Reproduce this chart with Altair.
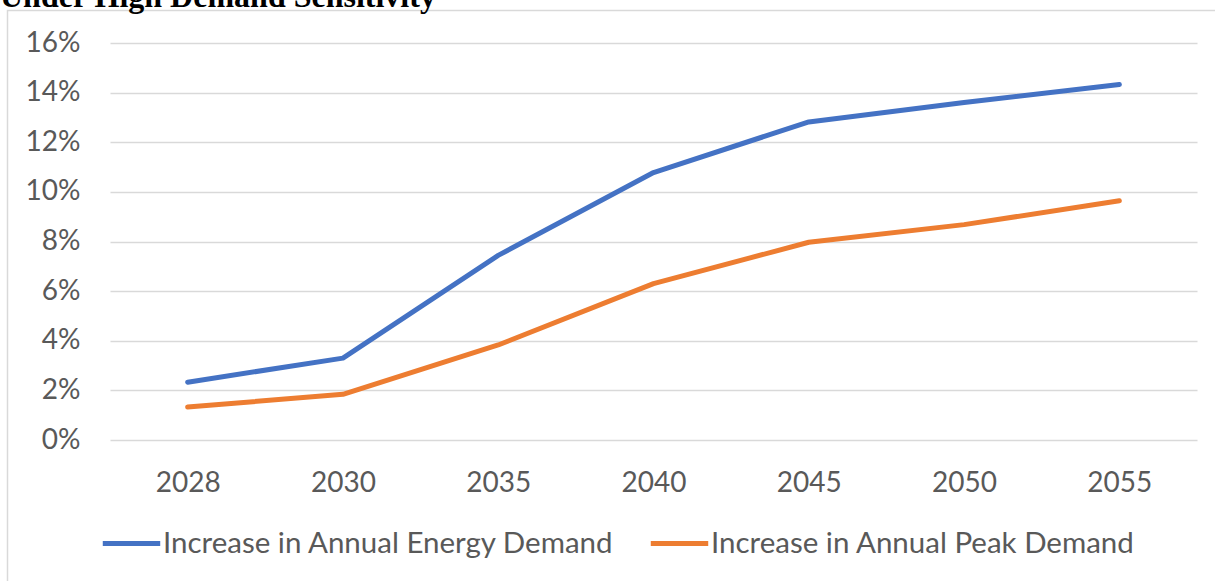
import altair as alt
import pandas as pd

# ---- data ----
title_text = "Under High Demand Sensitivity"
years = ["2028", "2030", "2035", "2040", "2045", "2050", "2055"]
series_names = ["Increase in Annual Energy Demand", "Increase in Annual Peak Demand"]
energy = [2.33, 3.30, 7.44, 10.78, 12.82, 13.60, 14.33]
peak = [1.33, 1.84, 3.83, 6.30, 7.97, 8.68, 9.64]
y_ticks = [0, 2, 4, 6, 8, 10, 12, 14, 16]
colors = ["#4472C4", "#ED7D31"]

rows = []
for yr, e, p in zip(years, energy, peak):
    rows.append({"year": yr, "series": series_names[0], "value": e})
    rows.append({"year": yr, "series": series_names[1], "value": p})
df = pd.DataFrame(rows)

FONT = "Lato"
LABEL_COLOR = "#595959"
GRID = "#D9D9D9"

lines = alt.Chart(df).mark_line(strokeWidth=5, strokeCap="round", strokeJoin="round").encode(
    x=alt.X(
        "year:O",
        sort=years,
        axis=alt.Axis(
            title=None, labelAngle=0, ticks=False, domain=False, grid=False,
            labelPadding=29, labelFontSize=28, labelFont=FONT, labelColor=LABEL_COLOR,
        ),
    ),
    y=alt.Y(
        "value:Q",
        scale=alt.Scale(domain=[0, 16], nice=False, zero=True),
        axis=alt.Axis(
            title=None, values=y_ticks, labelExpr="datum.value + '%'",
            ticks=False, domain=False, labelPadding=30, labelFontSize=28,
            labelFont=FONT, labelColor=LABEL_COLOR, gridColor=GRID, gridWidth=1.5,
        ),
    ),
    color=alt.Color(
        "series:N",
        scale=alt.Scale(domain=series_names, range=colors),
        legend=alt.Legend(
            title=None, orient="none", legendX=-10, legendY=469, direction="horizontal",
            symbolType="stroke", symbolSize=3300, symbolStrokeWidth=5,
            labelFontSize=29.5, labelFont=FONT, labelColor=LABEL_COLOR,
            labelOffset=0, columnPadding=25, labelLimit=1000,
        ),
    ),
    order=alt.Order("year:O"),
)

frame = alt.Chart(pd.DataFrame({"k": [0]})).mark_rect(
    fillOpacity=0, stroke=GRID, strokeWidth=1.5
).encode(
    x=alt.value(-102.5), x2=alt.value(1300), y=alt.value(-32.5), y2=alt.value(700)
)

title = alt.Chart(pd.DataFrame({"t": [title_text]})).mark_text(
    align="left", baseline="alphabetic", font="Liberation Serif", fontSize=32,
    fontWeight="bold", color="black",
).encode(text="t:N", x=alt.value(-110), y=alt.value(-36))

chart = alt.layer(frame, lines, title).properties(
    width=1087,
    height=397,
    padding={"left": 110, "top": 43, "right": 18, "bottom": 141},
    autosize=alt.AutoSizeParams(type="none"),
    background="white",
).configure_view(strokeWidth=0, stroke="transparent")

chart.save("out.html", embed_options={"renderer": "svg", "actions": False})
